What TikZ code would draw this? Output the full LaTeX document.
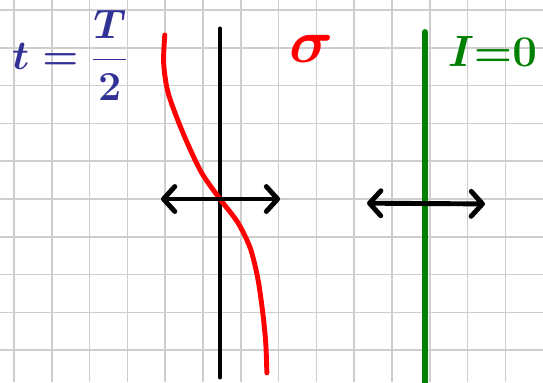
\RequirePackage{fix-cm}
\documentclass[tikz,border=0pt]{standalone}
\usetikzlibrary{arrows.meta}
\definecolor{inkblue}{RGB}{50,50,150}
\definecolor{inkred}{RGB}{255,0,0}
\definecolor{inkgreen}{RGB}{0,128,0}
\definecolor{gridgray}{RGB}{206,206,206}
\begin{document}
\begin{tikzpicture}[line cap=round,line join=round,
  ink/.style={line width=3.7pt},
  barb/.style={ink,{Straight Barb[round,length=3mm,width=6.6mm]}-{Straight Barb[round,length=3mm,width=6.6mm]}}]
\useasboundingbox (-5.370,-4.841) rectangle (8.995,5.265);
\draw[gridgray,line width=1.1pt,line cap=butt] (-5.370,-4.841) grid (8.995,5.265);
\coordinate (q1) at (0.45,4.50); \coordinate (q2) at (0.45,-4.71);
\coordinate (l1) at (-1.11,0); \coordinate (r1) at (2.04,0);
\coordinate (g1) at (5.87,4.42); \coordinate (g2) at (5.87,-5.2);
\coordinate (l2) at (4.34,-0.11); \coordinate (r2) at (7.46,-0.13);
\draw[ink] (q1)--(q2);
\draw[ink,inkgreen,line width=4.3pt] (g1)--(g2);
\draw[ink,inkred] plot[smooth] coordinates {(-1.01,4.34) (-1.04,3.60) (-0.92,2.80) (-0.53,1.75) (-0.05,0.72) (0.45,0) (0.92,-0.62) (1.25,-1.30) (1.45,-2.10) (1.58,-3.00) (1.66,-3.80) (1.69,-4.60)};
\draw[barb] (l1)--(r1);
\draw[barb] (l2)--(r2);
\node[inkblue,font=\fontsize{31}{35}\selectfont\boldmath] (time) at (-3.52,3.80) {$t=\displaystyle\frac{T}{2}$};
\node[inkred,font=\fontsize{46}{50}\selectfont\boldmath] (stress) at (2.86,3.98) {$\sigma$};
\node[inkgreen,font=\fontsize{33}{37}\selectfont\boldmath] (current) at (7.66,3.90) {$I{=}0$};
\end{tikzpicture}
\end{document}
